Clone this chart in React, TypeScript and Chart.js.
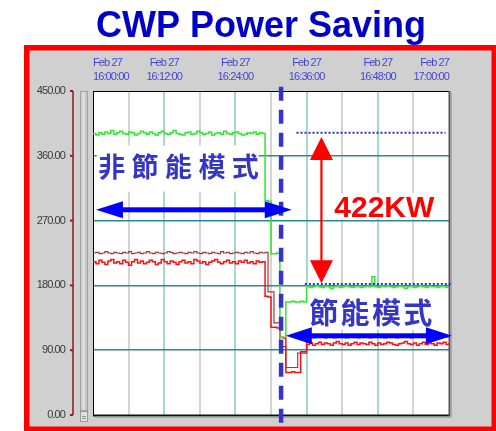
import React, { useEffect, useRef } from 'react';
import { Chart, registerables } from 'chart.js';

Chart.register(...registerables);

// ---------- data ----------
const TITLE = 'CWP Power Saving';
const DATE_LABEL = 'Feb 27';
const TIME_TICKS = ['16:00:00', '16:12:00', '16:24:00', '16:36:00', '16:48:00', '17:00:00'];
const Y_TICKS = [0, 90, 180, 270, 360, 450];
const SAMPLE_MINUTES = 0.5; // one sample every 30 s, starting 16:00:00

// total power (green), kW
const greenKW = [
  391, 389, 392, 390, 393, 391, 395, 390, 392, 394,
  391, 390, 393, 392, 389, 391, 394, 392, 390, 393,
  391, 389, 392, 394, 391, 390, 392, 395, 391, 390,
  389, 392, 393, 390, 391, 394, 392, 390, 391, 393,
  389, 391, 392, 390, 394, 391, 390, 392, 393, 391,
  389, 390, 392, 391, 393, 390, 392, 391,
  298, 297,
  224, 224, 225,
  108, 108,
  157, 157, 158, 157, 157, 158, 157,
  179, 177, 178, 180, 178, 177, 179, 178, 176, 178, 179, 177, 178, 180, 178, 177, 178, 179, 177, 178, 179, 178,
  192,
  178, 177, 179, 178, 180, 178, 177, 178, 179, 178, 176, 178, 179, 177, 178, 180, 178, 177, 179, 178, 178, 177, 179, 178, 177, 178,
];

// pump power (red), kW
const redKW = [
  213, 210, 215, 212, 209, 214, 216, 211, 213, 210,
  215, 212, 208, 213, 216, 211, 214, 210, 212, 215,
  213, 209, 211, 216, 213, 210, 214, 212, 209, 213,
  215, 211, 213, 210, 216, 214, 211, 213, 209, 212,
  214, 216, 212, 210, 213, 215, 211, 213, 210, 214,
  212, 215, 211, 213, 210, 214, 212, 213,
  165, 164,
  122, 122, 121,
  108, 107,
  59, 59, 60, 59, 59,
  88, 88,
  98, 100, 97, 99, 101, 98, 100, 99, 97, 100,
  102, 99, 98, 100, 97, 99, 101, 98, 100, 99,
  98, 101, 99, 97, 100, 98, 99, 101, 100, 98,
  97, 99, 100, 102, 99, 98, 100, 97, 99, 101,
  98, 100, 99, 97, 100, 99, 101, 98, 100,
];

// fan power (maroon), kW
const maroonKW = [
  225, 226, 224, 225, 227, 225, 224, 226, 225, 224,
  226, 225, 227, 224, 225, 226, 224, 225, 227, 225,
  224, 226, 225, 224, 225, 227, 226, 224, 225, 226,
  225, 224, 226, 225, 227, 225, 224, 226, 225, 224,
  226, 225, 224, 227, 225, 226, 224, 225, 226, 225,
  224, 226, 225, 227, 225, 224, 226, 225, 226,
  171, 171,
  128, 128,
  95, 95,
  66, 66, 66, 66,
  86, 86, 86,
  108, 109, 107, 108, 110, 108, 107, 109, 108, 107,
  108, 110, 109, 107, 108, 108, 109, 107, 108, 110,
  108, 107, 109, 108, 108, 110, 107, 108, 109, 108,
  107, 108, 110, 108, 109, 107, 108, 108, 109, 110,
  108, 107, 108, 109, 108, 107, 109, 108, 108,
];

// annotations, in data units (minutes after 16:00, kW)
const modeSwitchMinute = 31.7;
const modeSwitchSpan = [-25, 456];
const nonSavingArrow = [0.5, 33.5, 285]; // from, to, kW
const savingArrow = [32.5, 60.5, 110];
const levelBefore = [34.3, 59.4, 392]; // from, to, kW
const levelAfter = [35.7, 60.5, 182];
const diffArrow = [38.5, 386, 183]; // minute, top kW, bottom kW
const nonSavingLabel = '非節能模式';
const nonSavingLabelAt = [3.15, 345]; // first glyph centre
const savingLabel = '節能模式';
const savingLabelAt = [38.9, 142];
const diffLabel = '422KW';
const diffLabelAt = [49.1, 275]; // centre x, baseline

// ---------- drawing helpers ----------
function doubleArrow(ctx: CanvasRenderingContext2D, x1: number, y1: number, x2: number, y2: number,
  shaft: number, headLen: number, headHalf: number, color: string) {
  const ang = Math.atan2(y2 - y1, x2 - x1);
  const len = Math.hypot(x2 - x1, y2 - y1);
  ctx.save();
  ctx.translate(x1, y1);
  ctx.rotate(ang);
  ctx.fillStyle = color;
  ctx.fillRect(headLen - 1, -shaft / 2, len - 2 * headLen + 2, shaft);
  ctx.beginPath();
  ctx.moveTo(0, 0); ctx.lineTo(headLen, -headHalf); ctx.lineTo(headLen, headHalf); ctx.closePath(); ctx.fill();
  ctx.beginPath();
  ctx.moveTo(len, 0); ctx.lineTo(len - headLen, -headHalf); ctx.lineTo(len - headLen, headHalf); ctx.closePath(); ctx.fill();
  ctx.restore();
}

const CJK = "'Noto Sans CJK TC', 'Noto Sans CJK SC', sans-serif";

function spacedText(ctx: CanvasRenderingContext2D, text: string, cx: number, cy: number, step: number) {
  const chars = Array.from(text);
  chars.forEach((c, i) => ctx.fillText(c, cx + i * step, cy));
}

const decorPlugin = {
  id: 'decor',
  beforeDraw(chart: any) {
    const { ctx, chartArea: a } = chart;
    const W = chart.width, H = chart.height;
    ctx.save();
    ctx.fillStyle = '#ffffff';
    ctx.fillRect(0, 0, W, H);
    // title
    ctx.fillStyle = '#0000c8';
    ctx.font = "bold 36px 'Liberation Sans', Arial, sans-serif";
    ctx.textAlign = 'center';
    ctx.textBaseline = 'alphabetic';
    ctx.fillText(TITLE, 261, 37);
    // red frame + grey panel
    ctx.fillStyle = '#ff0000';
    ctx.fillRect(24, 45, W - 24, H - 45);
    ctx.fillStyle = '#d0d0d0';
    ctx.fillRect(29.5, 50.5, W - 29.5 - 4.5, H - 50.5 - 4.5);
    // plot background
    ctx.fillStyle = '#ffffff';
    ctx.fillRect(a.left, a.top, a.right - a.left, a.bottom - a.top);
    // scroll bar
    const sx = a.left - 13;
    ctx.fillStyle = '#c4c4c4';
    ctx.fillRect(sx, a.top, 8, a.bottom - a.top - 4);
    ctx.fillStyle = '#dcdcdc';
    ctx.fillRect(sx + 2, a.top + 1, 3, a.bottom - a.top - 6);
    ctx.strokeStyle = '#a4a4a4';
    ctx.lineWidth = 1;
    ctx.strokeRect(sx + 0.5, a.top + 0.5, 7, a.bottom - a.top - 5);
    ctx.fillStyle = '#e0e0e0';
    ctx.fillRect(sx, a.bottom - 4, 8, 11);
    ctx.strokeStyle = '#9a9a9a';
    ctx.strokeRect(sx + 0.5, a.bottom - 3.5, 7, 10);
    ctx.beginPath();
    ctx.moveTo(sx + 2, a.bottom + 1.5); ctx.lineTo(sx + 6, a.bottom + 1.5);
    ctx.moveTo(sx + 2, a.bottom + 3.5); ctx.lineTo(sx + 6, a.bottom + 3.5);
    ctx.stroke();
    // dark red value axis with tick marks
    const ax = a.left - 20;
    ctx.strokeStyle = '#8e1c1c';
    ctx.lineWidth = 1.5;
    ctx.beginPath();
    ctx.moveTo(ax, a.top); ctx.lineTo(ax, a.bottom);
    ctx.stroke();
    ctx.lineWidth = 2;
    const ys = chart.scales.y;
    Y_TICKS.forEach((v) => {
      const y = ys.getPixelForValue(v);
      ctx.beginPath();
      ctx.moveTo(ax - 3, y); ctx.lineTo(ax, y);
      ctx.stroke();
    });
    ctx.restore();
    // narrower axis text (the original uses a condensed face)
    (ctx as any).letterSpacing = '-0.9px';
  },
  beforeDatasetsDraw(chart: any) {
    const { ctx, chartArea: a } = chart;
    (ctx as any).letterSpacing = '0px';
    const xs = chart.scales.x, ys = chart.scales.y;
    ctx.save();
    ctx.fillStyle = '#ffffff';
    // label backgrounds (hide the grid behind the labels)
    const n0x = xs.getPixelForValue(nonSavingLabelAt[0]);
    const n0y = ys.getPixelForValue(nonSavingLabelAt[1]);
    ctx.fillRect(n0x - 15, n0y - 21, 162, 46);
    const s0x = xs.getPixelForValue(savingLabelAt[0]);
    const s0y = ys.getPixelForValue(savingLabelAt[1]);
    ctx.fillRect(s0x - 19, s0y - 25, 140, 42);
    const dx = xs.getPixelForValue(diffLabelAt[0]);
    const dy = ys.getPixelForValue(diffLabelAt[1]);
    ctx.fillRect(dx - 52, dy - 24, 104, 26);
    // plot frame bottom / right
    ctx.fillStyle = '#111111';
    ctx.fillRect(a.left, a.bottom - 0.5, a.right - a.left + 1, 2);
    ctx.fillStyle = '#555555';
    ctx.fillRect(a.right - 0.5, a.top, 2, a.bottom - a.top + 1);
    ctx.fillStyle = '#a8a8a8';
    ctx.fillRect(a.right + 1.5, a.top + 2, 1.5, a.bottom - a.top + 1);
    ctx.fillRect(a.left + 2, a.bottom + 1.5, a.right - a.left + 1, 1.5);
    ctx.restore();
  },
  afterDatasetsDraw(chart: any) {
    const { ctx } = chart;
    const xs = chart.scales.x, ys = chart.scales.y;
    const X = (t: number) => xs.getPixelForValue(t);
    const Y = (v: number) => ys.getPixelForValue(v);
    ctx.save();
    // dotted level lines
    ctx.strokeStyle = '#2a2ae6';
    ctx.lineWidth = 2;
    ctx.setLineDash([2, 2]);
    [levelBefore, levelAfter].forEach(([t0, t1, v]) => {
      ctx.beginPath();
      ctx.moveTo(X(t0), Y(v)); ctx.lineTo(X(t1), Y(v));
      ctx.stroke();
    });
    // dashed mode-switch line
    ctx.strokeStyle = '#3434cc';
    ctx.lineWidth = 4.5;
    ctx.setLineDash([14, 9]);
    ctx.beginPath();
    ctx.moveTo(X(modeSwitchMinute), Y(modeSwitchSpan[1]));
    ctx.lineTo(X(modeSwitchMinute), Y(modeSwitchSpan[0]));
    ctx.stroke();
    ctx.setLineDash([]);
    // arrows
    doubleArrow(ctx, X(nonSavingArrow[0]), Y(nonSavingArrow[2]), X(nonSavingArrow[1]), Y(nonSavingArrow[2]), 5, 27, 8.5, '#0000ff');
    doubleArrow(ctx, X(savingArrow[0]), Y(savingArrow[2]), X(savingArrow[1]), Y(savingArrow[2]), 5, 26, 8.5, '#0000ff');
    doubleArrow(ctx, X(diffArrow[0]), Y(diffArrow[1]), X(diffArrow[0]), Y(diffArrow[2]), 2.2, 23, 11.5, '#ff0000');
    // labels
    ctx.fillStyle = '#3636c6';
    ctx.textAlign = 'center';
    ctx.textBaseline = 'middle';
    ctx.font = `bold 27px ${CJK}`;
    spacedText(ctx, nonSavingLabel, X(nonSavingLabelAt[0]), Y(nonSavingLabelAt[1]), 33.4);
    ctx.font = `bold 29px ${CJK}`;
    spacedText(ctx, savingLabel, X(savingLabelAt[0]), Y(savingLabelAt[1]), 31.3);
    ctx.fillStyle = '#ff0000';
    ctx.textBaseline = 'alphabetic';
    ctx.font = "bold 30px 'Liberation Sans', Arial, sans-serif";
    ctx.fillText(diffLabel, X(diffLabelAt[0]), Y(diffLabelAt[1]));
    ctx.restore();
  },
};

const toPoints = (vals: number[]) => vals.map((v, i) => ({ x: i * SAMPLE_MINUTES, y: v }));

export default function App() {
  const ref = useRef<HTMLCanvasElement | null>(null);
  useEffect(() => {
    if (!ref.current) return;
    const chart = new Chart(ref.current, {
      type: 'line',
      data: {
        datasets: [
          { label: 'Total', data: toPoints(greenKW), borderColor: '#2ee82e', borderWidth: 1.5, stepped: true, pointRadius: 0 },
          { label: 'Pump', data: toPoints(redKW), borderColor: '#ff1010', borderWidth: 1.5, stepped: true, pointRadius: 0 },
          { label: 'Fan', data: toPoints(maroonKW), borderColor: '#a43a3a', borderWidth: 1.2, stepped: true, pointRadius: 0 },
        ],
      },
      options: {
        animation: false,
        responsive: false,
        devicePixelRatio: 1,
        layout: { padding: { left: 30, top: 50, right: 47, bottom: 16 } },
        plugins: { legend: { display: false }, tooltip: { enabled: false }, title: { display: false } },
        scales: {
          x: {
            type: 'linear',
            position: 'top',
            min: 0,
            max: 60,
            afterFit: (s: any) => { s.height = 41; s.paddingLeft = 0; s.paddingRight = 0; s.paddingTop = 0; s.paddingBottom = 0; },
            grid: {
              drawTicks: false,
              lineWidth: 2,
              color: (c: any) => {
                const v = c.tick ? c.tick.value : 0;
                if (v === 0 || v === 60) return 'rgba(0,0,0,0)';
                return v % 12 === 0 ? '#a8d6d6' : '#d4d4d4';
              },
            },
            border: { display: true, color: '#000000', width: 1 },
            ticks: {
              stepSize: 6,
              autoSkip: false,
              maxRotation: 0,
              align: 'inner',
              padding: 7,
              color: '#4444dd',
              font: { family: "'Liberation Sans', Arial, sans-serif", size: 11, lineHeight: 1.3 },
              callback: (v: any) => {
                const n = Number(v);
                if (n % 12 !== 0) return '';
                return [DATE_LABEL, TIME_TICKS[n / 12]];
              },
            },
          },
          y: {
            type: 'linear',
            min: 0,
            max: 450,
            afterFit: (s: any) => { s.width = 63; s.paddingTop = 0; s.paddingBottom = 0; s.paddingLeft = 0; s.paddingRight = 0; },
            afterBuildTicks: (s: any) => { s.ticks = Y_TICKS.map((v) => ({ value: v })); },
            grid: {
              drawTicks: false,
              lineWidth: 1.5,
              color: (c: any) => {
                const v = c.tick ? c.tick.value : 0;
                return v === 0 || v === 450 ? 'rgba(0,0,0,0)' : '#2b8c8c';
              },
            },
            border: { display: true, color: '#000000', width: 1 },
            ticks: {
              padding: 28,
              color: '#3a3a3a',
              font: { family: "'Liberation Sans', Arial, sans-serif", size: 11 },
              callback: (v: any) => Number(v).toFixed(2),
            },
          },
        },
      } as any,
      plugins: [decorPlugin],
    });
    return () => chart.destroy();
  }, []);
  return (
    <div style={{ position: 'fixed', left: 0, top: 0, width: 496, height: 431 }}>
      <canvas ref={ref} width={496} height={431} style={{ display: 'block' }} />
    </div>
  );
}
